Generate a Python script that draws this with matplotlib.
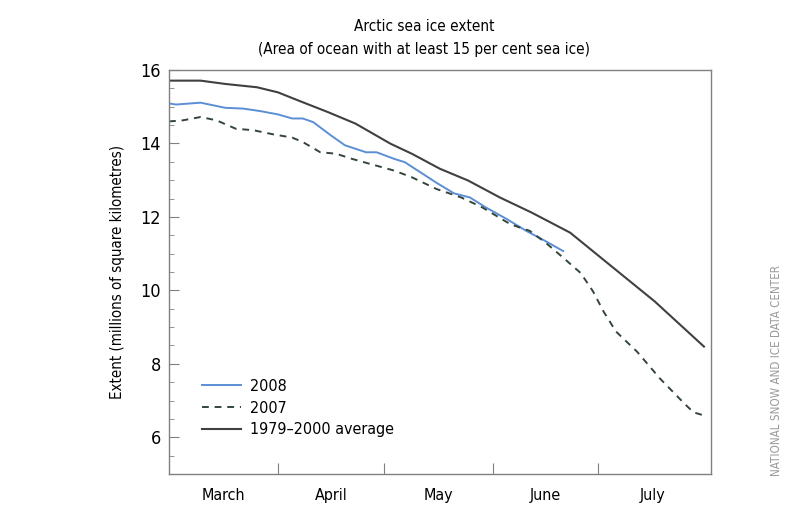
import matplotlib.pyplot as plt
from matplotlib.ticker import FixedLocator, MultipleLocator, NullFormatter

# days counted from 1 March
avg_days = [0, 9, 16, 25, 31, 37, 45, 53, 63, 69, 77, 85, 94, 103, 114, 124, 138, 152]
avg_vals = [15.71, 15.71, 15.62, 15.53, 15.39, 15.16, 14.86, 14.54, 13.99, 13.72, 13.31,
            12.99, 12.53, 12.12, 11.57, 10.79, 9.70, 8.47]

y2008_days = [0, 2, 9, 16, 21, 26, 31, 35, 38, 41, 46, 50, 56, 59, 64, 67, 72, 76, 81,
              85.5, 90, 96, 101.5, 107, 112]
y2008_vals = [15.09, 15.06, 15.11, 14.97, 14.95, 14.88, 14.79, 14.68, 14.68, 14.58, 14.22,
              13.95, 13.76, 13.76, 13.58, 13.49, 13.18, 12.93, 12.64, 12.53, 12.26, 11.94,
              11.62, 11.34, 11.07]

y2007_days = [0, 4, 9, 13.5, 19, 24, 29.5, 35, 38, 43, 47.5, 52, 58, 64, 69, 76, 83, 89,
              97, 102.5, 107, 112, 117, 120.5, 123.5, 127, 133, 139.5, 146, 149, 152.5]
y2007_vals = [14.60, 14.63, 14.72, 14.63, 14.40, 14.36, 14.25, 14.16, 14.04, 13.76, 13.72,
              13.58, 13.42, 13.26, 13.08, 12.76, 12.53, 12.26, 11.80, 11.62, 11.30, 10.89,
              10.47, 9.97, 9.42, 8.88, 8.33, 7.60, 6.96, 6.68, 6.58]

month_starts = [0, 31, 61, 92, 122, 153]
month_names = ["March", "April", "May", "June", "July"]

plt.rcParams['font.family'] = ['DejaVu Sans']
plt.rcParams['font.stretch'] = 'condensed'

fig = plt.figure(figsize=(7.87, 5.05), dpi=100)
ax = fig.add_axes([0.2147, 0.0614, 0.6887, 0.8000])

ax.plot(y2008_days, y2008_vals, color='#5b8fd4', lw=1.4, label='2008')
ax.plot(y2007_days, y2007_vals, color='#34463a', lw=1.4, ls=(0, (3.5, 3)), label='2007')
ax.plot(avg_days, avg_vals, color='#404040', lw=1.5, label='1979\u20132000 average')

ax.set_xlim(0, 154)
ax.set_ylim(5, 16)

ax.xaxis.set_major_locator(FixedLocator(month_starts[1:-1]))
ax.xaxis.set_major_formatter(NullFormatter())
mids = [(month_starts[i] + month_starts[i + 1]) / 2 for i in range(len(month_names))]
ax.xaxis.set_minor_locator(FixedLocator(mids))
ax.set_xticklabels(month_names, minor=True)
ax.tick_params(axis='x', which='major', direction='in', length=8, color='#808080')
ax.tick_params(axis='x', which='minor', length=0, pad=10, labelsize=11.5)

ax.yaxis.set_major_locator(MultipleLocator(2))
ax.yaxis.set_minor_locator(MultipleLocator(0.5))
ax.tick_params(axis='y', which='major', direction='in', length=7, color='#808080', labelsize=13, pad=6)
ax.tick_params(axis='y', which='minor', direction='in', length=3.5, color='#808080')

for s in ax.spines.values():
    s.set_color('#808080')
    s.set_linewidth(1.0)

ax.set_ylabel("Extent (millions of square kilometres)", fontsize=10.8, labelpad=11)

fig.text(0.539, 0.9485, "Arctic sea ice extent", ha='center', va='center', fontsize=11)
fig.text(0.539, 0.901, "(Area of ocean with at least 15 per cent sea ice)", ha='center', va='center', fontsize=11)

ax.legend(loc='lower left', bbox_to_anchor=(0.035, 0.055), frameon=False, fontsize=11.5,
          handlelength=2.4, handletextpad=0.6, labelspacing=0.42)

fig.text(0.987, 0.475, "NATIONAL SNOW AND ICE DATA CENTER", rotation=90, ha='center', va='top',
         fontsize=8.4, color='#9a9a9a')

fig.savefig('out.png', dpi=100)
